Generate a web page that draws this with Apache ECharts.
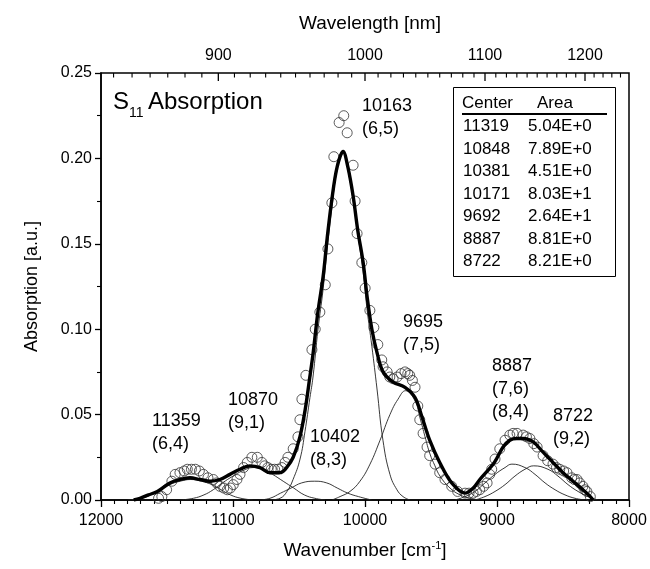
<!DOCTYPE html>
<html><head><meta charset="utf-8">
<script src="https://cdn.jsdelivr.net/npm/echarts@6/dist/echarts.min.js"></script>
<style>html,body{margin:0;padding:0;background:#fff}#c{width:650px;height:569px}</style>
</head><body><div id="c"></div>
<script>
const FONT = '"Liberation Sans", Arial, Helvetica, sans-serif';

// ---- experimental data (open circles): [wavenumber cm-1, absorption] ----
const expPoints = [
[11564,0.001],[11539,0.002],[11503,0.006],[11463,0.011],[11438,0.015],[11402,0.016],[11370,0.017],[11346,0.018],
[11315,0.018],[11285,0.018],[11255,0.017],[11224,0.015],[11190,0.013],[11149,0.012],[11125,0.010],[11099,0.008],
[11070,0.007],[11043,0.006],[11020,0.007],[10998,0.009],[10970,0.012],[10947,0.015],[10920,0.019],[10892,0.022],
[10857,0.025],[10816,0.025],[10781,0.022],[10760,0.020],[10736,0.019],[10710,0.018],[10685,0.018],[10660,0.018],
[10630,0.019],[10605,0.022],[10584,0.025],[10544,0.030],[10508,0.037],[10493,0.047],[10478,0.059],[10448,0.073],
[10402,0.088],[10377,0.100],[10342,0.110],[10301,0.126],[10281,0.147],[10251,0.174],[10236,0.201],[10196,0.221],
[10161,0.225],[10135,0.215],[10090,0.196],[10075,0.175],[10060,0.156],[10024,0.139],[9999,0.124],[9963,0.111],
[9933,0.101],[9903,0.091],[9873,0.082],[9863,0.078],[9832,0.075],[9812,0.072],[9787,0.071],[9757,0.072],
[9727,0.074],[9697,0.075],[9676,0.074],[9661,0.073],[9641,0.070],[9621,0.066],[9600,0.055],[9585,0.047],
[9560,0.039],[9530,0.031],[9510,0.026],[9469,0.021],[9434,0.016],[9394,0.012],[9343,0.008],[9298,0.005],
[9242,0.004],[9212,0.004],[9181,0.004],[9156,0.005],[9131,0.006],[9101,0.008],[9075,0.010],[9055,0.015],
[9040,0.018],[9015,0.024],[8979,0.030],[8939,0.035],[8903,0.038],[8878,0.039],[8848,0.039],[8802,0.038],
[8777,0.037],[8751,0.036],[8721,0.033],[8696,0.031],[8651,0.026],[8616,0.023],[8576,0.021],[8550,0.019],
[8525,0.018],[8495,0.017],[8470,0.016],[8434,0.013],[8414,0.012],[8394,0.012],[8374,0.010],[8349,0.008],
[8334,0.006],[8319,0.005],[8293,0.002]
];

// ---- total fit (thick line) ----
const fitPoints = [
[11752,0.000],[11705,0.001],[11640,0.003],[11573,0.005],[11478,0.010],[11402,0.012],[11326,0.013],[11250,0.012],
[11174,0.011],[11099,0.012],[11023,0.015],[10947,0.018],[10872,0.020],[10796,0.019],[10720,0.016],[10645,0.016],
[10594,0.019],[10544,0.025],[10493,0.037],[10453,0.053],[10418,0.072],[10393,0.086],[10357,0.110],[10317,0.131],
[10287,0.153],[10251,0.176],[10211,0.195],[10166,0.204],[10130,0.195],[10090,0.178],[10055,0.158],[10014,0.139],
[9984,0.119],[9948,0.100],[9908,0.086],[9863,0.075],[9787,0.069],[9697,0.066],[9621,0.060],[9570,0.049],
[9510,0.035],[9434,0.022],[9343,0.010],[9242,0.004],[9180,0.007],[9130,0.012],[9020,0.022],[8954,0.031],
[8903,0.035],[8850,0.036],[8802,0.036],[8726,0.034],[8651,0.028],[8576,0.022],[8500,0.016],[8424,0.011],
[8349,0.006],[8293,0.002],[8273,0.000]
];

// ---- fitted components (thin lines) ----
const comp11319 = [[11800,0],[11700,0.001],[11620,0.003],[11550,0.006],[11480,0.009],[11400,0.011],[11319,0.012],[11240,0.011],[11160,0.009],[11090,0.006],[11020,0.003],[10940,0.001],[10850,0]];
const comp10848 = [[11400,0],[11300,0.001],[11220,0.003],[11150,0.006],[11080,0.010],[11000,0.014],[10930,0.017],[10848,0.019],[10770,0.018],[10700,0.015],[10620,0.011],[10540,0.007],[10460,0.003],[10380,0.001],[10300,0]];
const comp10381 = [[10800,0],[10720,0.001],[10640,0.004],[10560,0.007],[10480,0.010],[10381,0.011],[10290,0.010],[10210,0.007],[10130,0.004],[10050,0.002],[9950,0]];
const comp10171 = [[10720,0],[10644,0.001],[10591,0.005],[10545,0.012],[10492,0.024],[10455,0.040],[10417,0.060],[10394,0.072],[10356,0.100],[10318,0.123],[10288,0.146],[10250,0.172],[10212,0.193],[10167,0.204],[10129,0.193],[10091,0.176],[10053,0.155],[10015,0.134],[9985,0.112],[9948,0.090],[9909,0.065],[9864,0.035],[9811,0.015],[9758,0.006],[9712,0.002],[9659,0]];
const comp9692 = [[10250,0],[10189,0.002],[10114,0.005],[10038,0.011],[9962,0.021],[9886,0.035],[9811,0.050],[9750,0.059],[9692,0.064],[9621,0.058],[9583,0.048],[9545,0.037],[9508,0.027],[9470,0.020],[9432,0.014],[9356,0.007],[9280,0.003],[9205,0.001],[9129,0]];
const comp8887 = [[9318,0],[9242,0.002],[9167,0.005],[9091,0.010],[9015,0.015],[8939,0.019],[8887,0.021],[8788,0.019],[8712,0.015],[8636,0.010],[8560,0.006],[8485,0.003],[8409,0.001],[8333,0]];
const comp8722 = [[9167,0],[9091,0.002],[9015,0.005],[8939,0.009],[8864,0.014],[8788,0.018],[8722,0.020],[8614,0.018],[8538,0.014],[8462,0.009],[8386,0.005],[8311,0.002],[8235,0]];

// ---- top (wavelength) axis ticks, nm ----
const topTickNm = [840,850,860,870,880,890,900,910,920,930,940,950,960,970,980,990,1000,1010,1020,1030,1040,1050,1060,1070,1080,1090,1100,1110,1120,1130,1140,1150,1160,1170,1180,1190,1200,1210,1220,1230,1240];
const topMajorNm = [900,1000,1100,1200];

// ---- inset table ----
const tableHeader = ['Center','Area'];
const tableCenter = ['11319','10848','10381','10171','9692','8887','8722'];
const tableArea = ['5.04E+0','7.89E+0','4.51E+0','8.03E+1','2.64E+1','8.81E+0','8.21E+0'];

// ---- peak annotations ----
const peakNames = ['11359','10870','10402','10163','9695','8887','8722'];
const peakChir = ['(6,4)','(9,1)','(8,3)','(6,5)','(7,5)','(7,6)\n(8,4)','(9,2)'];
const peakLabelPos = [[152,410],[228,389],[310,426],[362,95],[403,311],[492,355],[553,405]];

const chart = echarts.init(document.getElementById('c'), null, {renderer:'canvas', width:650, height:569});

const comps = [comp11319, comp10848, comp10381, comp10171, comp9692, comp8887, comp8722];
const series = comps.map(c => ({
  type:'line', data:c, showSymbol:false, smooth:0.45, silent:true, animation:false, z:2,
  lineStyle:{color:'#222', width:0.9}
}));
series.push({
  type:'scatter', data:expPoints, symbol:'circle', symbolSize:10, silent:true, animation:false, z:3,
  itemStyle:{color:'rgba(0,0,0,0)', borderColor:'#333', borderWidth:1}
});
series.push({
  type:'line', data:fitPoints, showSymbol:false, smooth:0.35, silent:true, animation:false, z:4,
  lineStyle:{color:'#000', width:3.4}
});
series.push({
  type:'custom', silent:true, animation:false, z:10, clip:false,
  data: topTickNm.map(nm => [1e7/nm, 0.25, nm, topMajorNm.indexOf(nm) >= 0 ? 1 : 0]),
  encode:{x:0, y:1},
  renderItem:(params, api) => {
    const p = api.coord([api.value(0), 0.25]);
    const major = api.value(3) === 1;
    const ch = [{type:'line', shape:{x1:p[0], y1:p[1], x2:p[0], y2:p[1] + (major ? 8 : 4.5)},
                 style:{stroke:'#000', lineWidth: major ? 1.3 : 1.1}}];
    if (major) {
      ch.push({type:'text', x:p[0], y:p[1] - 9,
        style:{text:String(api.value(2)), fill:'#000', fontSize:16, fontFamily:FONT, align:'center', verticalAlign:'bottom'}});
    }
    return {type:'group', children:ch};
  }
});

const graphics = [];
// S11 Absorption
graphics.push({type:'text', left:113, top:90, style:{text:'S', fill:'#000', fontSize:24, fontFamily:FONT}});
graphics.push({type:'text', left:129, top:106, style:{text:'11', fill:'#000', fontSize:14, fontFamily:FONT}});
graphics.push({type:'text', left:148, top:90, style:{text:'Absorption', fill:'#000', fontSize:24, fontFamily:FONT}});
// peak labels
peakNames.forEach((n, i) => {
  graphics.push({type:'text', left:peakLabelPos[i][0], top:peakLabelPos[i][1],
    style:{text:n + '\n' + peakChir[i], fill:'#000', fontSize:18, lineHeight:23, fontFamily:FONT}});
});
// table
graphics.push({type:'rect', shape:{x:453.5, y:87.5, width:162, height:189}, style:{fill:'#fff', stroke:'#000', lineWidth:1}, z:20});
graphics.push({type:'text', left:462, top:95, z:21, style:{text:tableHeader[0], fill:'#000', fontSize:17, fontFamily:FONT}});
graphics.push({type:'text', left:537, top:95, z:21, style:{text:tableHeader[1], fill:'#000', fontSize:17, fontFamily:FONT}});
graphics.push({type:'line', shape:{x1:462, y1:114, x2:607, y2:114}, style:{stroke:'#000', lineWidth:2}, z:21});
tableCenter.forEach((c, i) => {
  graphics.push({type:'text', left:463, top:118 + i*22.5, z:21, style:{text:c, fill:'#000', fontSize:17, fontFamily:FONT}});
  graphics.push({type:'text', left:528, top:118 + i*22.5, z:21, style:{text:tableArea[i], fill:'#000', fontSize:17, fontFamily:FONT}});
});

chart.setOption({
  animation:false,
  backgroundColor:'#fff',
  title:{text:'Wavelength [nm]', left:365, top:9, textAlign:'center',
    textStyle:{color:'#000', fontSize:19, fontWeight:'normal', fontFamily:FONT}},
  grid:{left:101, right:21, top:73, bottom:69, show:true, borderColor:'#000', borderWidth:1.5, backgroundColor:'transparent'},
  xAxis:{
    type:'value', min:8000, max:12000, interval:1000, inverse:true,
    axisLine:{onZero:false, lineStyle:{color:'#000', width:1.5}},
    axisTick:{show:true, length:7, lineStyle:{color:'#000', width:1.3}},
    minorTick:{show:true, splitNumber:10, length:4, lineStyle:{color:'#000', width:1.1}},
    splitLine:{show:false},
    axisLabel:{color:'#000', fontSize:16, fontFamily:FONT, margin:13, formatter:v => String(Math.round(v))},
    name:'{a|Wavenumber [cm}{s|-1}{a|]}', nameLocation:'middle', nameGap:40,
    nameTextStyle:{color:'#000', fontFamily:FONT, rich:{
      a:{fontSize:19, fontFamily:FONT, color:'#000', lineHeight:22},
      s:{fontSize:11, fontFamily:FONT, color:'#000', verticalAlign:'top', lineHeight:22}
    }}
  },
  yAxis:{
    type:'value', min:0, max:0.25, interval:0.05,
    axisLine:{show:true, lineStyle:{color:'#000', width:1.5}},
    axisTick:{show:true, length:6, lineStyle:{color:'#000', width:1.3}},
    minorTick:{show:true, splitNumber:2, length:4, lineStyle:{color:'#000', width:1.1}},
    splitLine:{show:false},
    axisLabel:{color:'#000', fontSize:16, fontFamily:FONT, margin:9, formatter:v => v.toFixed(2)},
    name:'Absorption [a.u.]', nameLocation:'middle', nameGap:60, nameRotate:90,
    nameTextStyle:{color:'#000', fontSize:18, fontFamily:FONT}
  },
  series:series,
  graphic:graphics
});
</script></body></html>
